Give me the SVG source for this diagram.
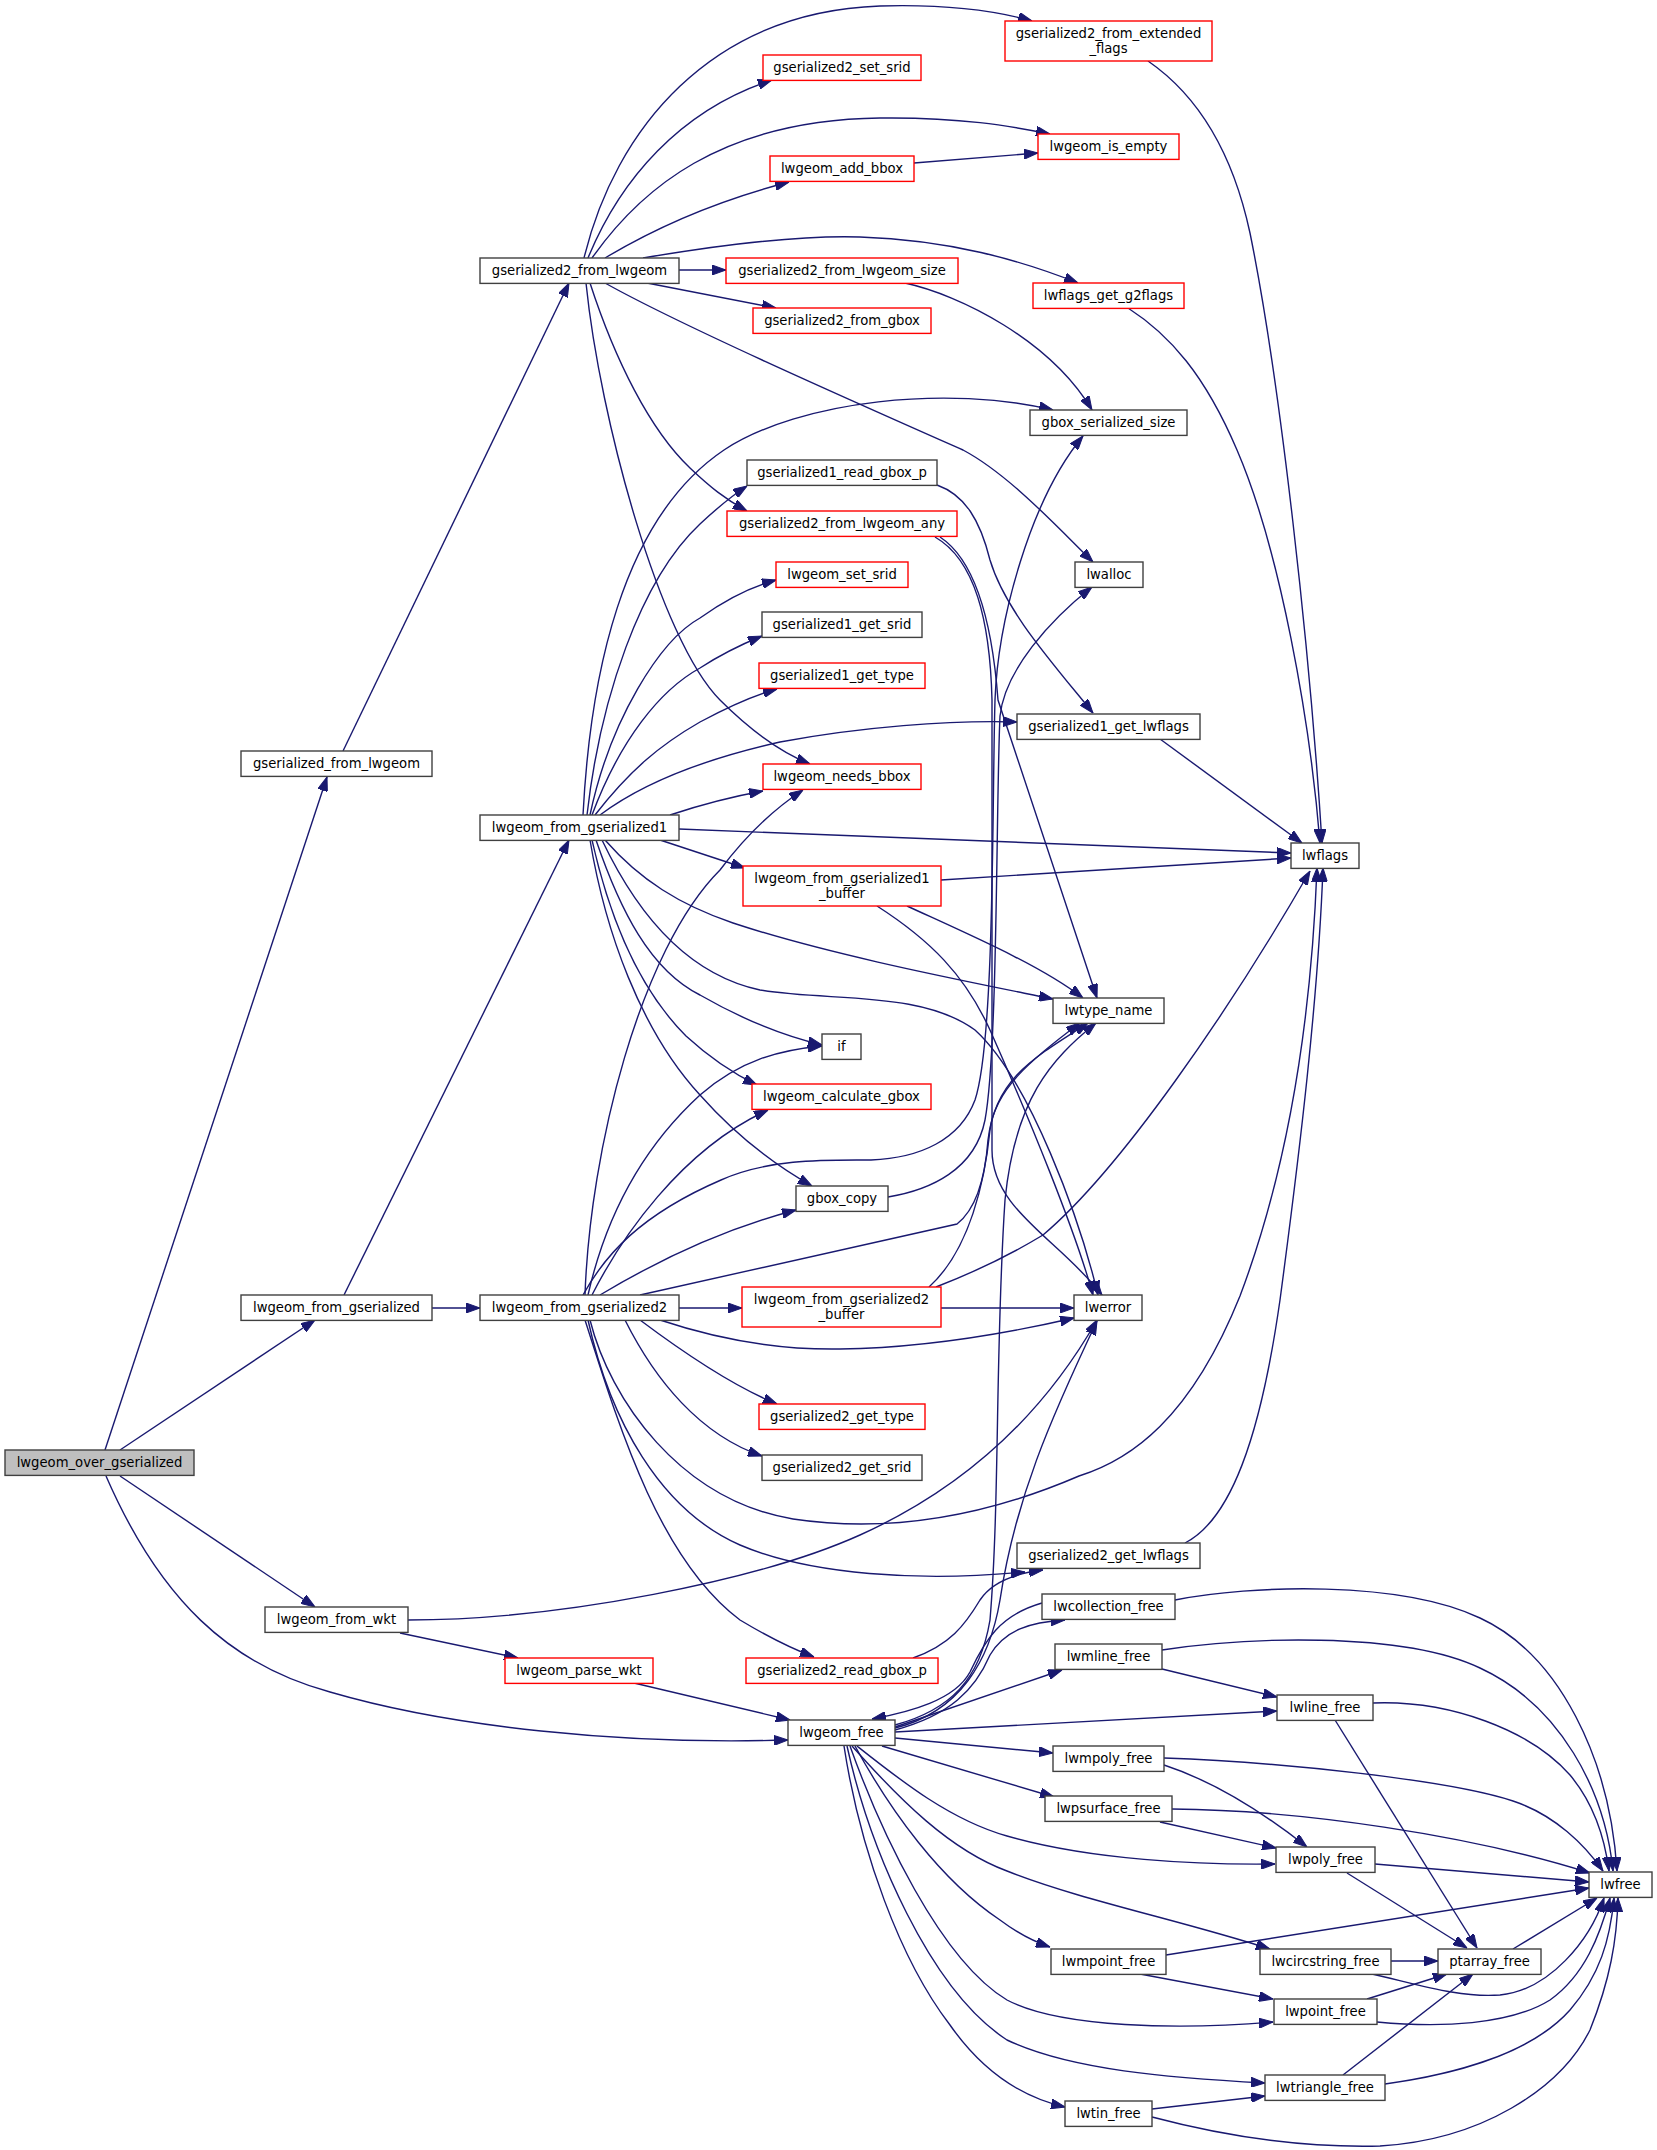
<svg xmlns="http://www.w3.org/2000/svg" width="1657" height="2150" viewBox="0 0 1657 2150">
<style>
.n rect{fill:#ffffff;stroke:#404040;stroke-width:1.4}
.n.r rect{stroke:#ff0000}
.n.root rect{fill:#bfbfbf;stroke:#404040}
text{font-family:"DejaVu Sans","Noto Sans",sans-serif;font-size:13.2px;text-anchor:middle;fill:#000000}
#edges path{fill:none;stroke:#191970;stroke-width:1.4;marker-end:url(#a)}
</style>
<defs>
<marker id="a" markerUnits="userSpaceOnUse" markerWidth="14" markerHeight="10" viewBox="0 0 14 10" refX="14" refY="5" orient="auto">
<path d="M0,0 L14,5 L0,10 z" fill="#191970" stroke="#191970" stroke-width="1"/>
</marker>
</defs>
<rect x="0" y="0" width="1657" height="2150" fill="#ffffff"/>
<g id="edges">
<path d="M105,1450 L327,777"/>
<path d="M120,1450 L315,1320"/>
<path d="M120,1476 L315,1607"/>
<path d="M106,1476 C160,1600 230,1665 330,1692 C450,1727 620,1745 788,1740"/>
<path d="M343,751 L569,283"/>
<path d="M344,1295 L569,840"/>
<path d="M432,1308 L480,1308"/>
<path d="M408,1620 C560,1620 760,1580 860,1535 C960,1490 1040,1420 1097,1320"/>
<path d="M400,1633 L518,1658"/>
<path d="M634,1683 L790,1720"/>
<path d="M584,258 C615,130 710,12 880,6 C950,4 1000,12 1032,21"/>
<path d="M588,258 C620,180 680,110 772,80"/>
<path d="M592,258 C640,190 720,120 880,118 C960,117 1010,126 1050,134"/>
<path d="M605,258 C660,225 720,200 789,182"/>
<path d="M643,258 C720,245 800,235 860,237 C950,240 1020,260 1078,283"/>
<path d="M679,270 L726,270"/>
<path d="M647,283 L776,308"/>
<path d="M605,283 C680,325 850,400 963,450 C1010,475 1060,530 1093,562"/>
<path d="M590,283 C615,360 650,430 690,468 C710,487 725,499 747,511"/>
<path d="M586,283 C600,420 660,640 720,700 C750,730 780,752 810,764"/>
<path d="M583,815 C590,680 620,520 724,450 C800,400 950,385 1053,410"/>
<path d="M587,815 C600,700 640,580 700,524 C715,510 730,497 747,486"/>
<path d="M590,815 C610,720 660,640 700,618 C725,600 750,587 776,580"/>
<path d="M592,815 C620,740 660,690 700,668 C720,655 740,645 762,636"/>
<path d="M595,815 C630,770 660,745 700,722 C730,706 755,695 777,689"/>
<path d="M600,815 C640,785 700,760 780,742 C860,727 950,720 1017,722"/>
<path d="M670,815 C700,805 730,797 763,791"/>
<path d="M679,829 L1291,853"/>
<path d="M660,840 L745,868"/>
<path d="M605,840 C640,880 680,905 733,923 C830,955 960,980 1053,999"/>
<path d="M602,840 C640,920 690,975 760,990 C830,1002 920,990 975,1030 C1030,1080 1080,1220 1098,1295"/>
<path d="M596,840 C620,910 650,970 700,995 C740,1018 780,1035 822,1045"/>
<path d="M592,840 C610,920 640,990 686,1036 C710,1058 730,1072 757,1085"/>
<path d="M590,840 C605,930 640,1030 700,1095 C740,1140 780,1168 812,1186"/>
<path d="M941,880 L1291,858"/>
<path d="M907,906 C970,935 1040,965 1083,998"/>
<path d="M877,906 C930,940 965,975 990,1030 C1030,1120 1075,1230 1093,1295"/>
<path d="M940,537 C975,560 992,620 998,700 L1097,998"/>
<path d="M935,537 C975,560 990,620 992,700 L992,1150 C992,1210 1060,1240 1102,1295"/>
<path d="M937,485 C965,495 980,520 990,560 C1005,610 1050,660 1093,713"/>
<path d="M905,283 C960,295 1050,340 1092,410"/>
<path d="M914,163 L1038,153"/>
<path d="M1148,61 C1190,90 1230,140 1250,233 C1280,380 1310,650 1322,843"/>
<path d="M1128,308 C1170,335 1205,375 1237,450 C1280,550 1310,720 1320,843"/>
<path d="M1160,739 L1302,843"/>
<path d="M583,1295 C605,1255 640,1215 721,1180 C770,1158 830,1160 871,1160 C920,1158 960,1140 975,1100 C995,1040 992,800 995,700 C998,620 1030,500 1083,436"/>
<path d="M888,1197 C930,1190 975,1170 985,1120 C998,1050 996,800 1000,716 C1005,670 1050,620 1092,587"/>
<path d="M588,1295 C605,1220 640,1150 700,1095 C740,1060 780,1050 822,1046"/>
<path d="M592,1295 C620,1240 680,1150 768,1110"/>
<path d="M585,1295 C590,1150 640,950 720,870 C750,830 780,805 803,790"/>
<path d="M600,1295 C650,1265 720,1230 796,1210"/>
<path d="M640,1295 L957,1224 C975,1210 985,1180 988,1140 C995,1080 1030,1060 1088,1023"/>
<path d="M929,1287 C970,1250 985,1180 990,1130 C995,1090 1030,1060 1080,1023"/>
<path d="M679,1308 L742,1308"/>
<path d="M660,1320 C720,1340 780,1350 840,1349 C920,1348 1000,1335 1074,1318"/>
<path d="M640,1320 C680,1350 730,1385 777,1404"/>
<path d="M625,1320 C655,1380 700,1435 762,1456"/>
<path d="M590,1320 C610,1400 680,1500 793,1519 C900,1535 1000,1510 1079,1476 C1130,1460 1190,1420 1240,1296 C1280,1190 1310,1050 1317,868"/>
<path d="M588,1320 C610,1420 660,1510 740,1545 C810,1575 920,1582 1025,1572"/>
<path d="M585,1320 C620,1430 660,1560 740,1620 C765,1635 790,1648 814,1657"/>
<path d="M913,1658 C950,1645 965,1625 980,1600 C990,1585 1010,1574 1043,1570"/>
<path d="M1185,1543 C1230,1520 1260,1440 1280,1300 C1300,1150 1318,1000 1323,868"/>
<path d="M941,1308 L1074,1308"/>
<path d="M936,1287 C980,1270 1010,1255 1043,1235 C1120,1170 1230,1010 1310,871"/>
<path d="M895,1725 C950,1710 980,1680 990,1620 C1000,1500 995,1350 1005,1200 C1015,1100 1050,1060 1096,1023"/>
<path d="M895,1728 C960,1712 990,1660 1000,1600 C1015,1500 1050,1420 1097,1321"/>
<path d="M1042,1603 C1000,1615 985,1640 970,1672 C955,1700 910,1712 872,1719"/>
<path d="M895,1730 C950,1715 975,1690 990,1655 C1005,1630 1030,1622 1065,1620"/>
<path d="M895,1727 L1062,1670"/>
<path d="M895,1732 L1277,1711"/>
<path d="M895,1738 L1053,1753"/>
<path d="M882,1746 L1054,1797"/>
<path d="M857,1746 C900,1780 950,1820 1007,1836 C1090,1860 1200,1865 1275,1864"/>
<path d="M855,1746 C890,1810 940,1880 1000,1920 C1020,1935 1035,1942 1050,1947"/>
<path d="M852,1746 C900,1800 950,1850 1007,1871 C1080,1900 1180,1920 1270,1949"/>
<path d="M850,1746 C880,1830 940,1960 1007,2000 C1060,2028 1180,2030 1273,2022"/>
<path d="M847,1746 C870,1850 930,1990 1007,2040 C1070,2070 1170,2078 1265,2083"/>
<path d="M844,1746 C860,1850 900,1960 950,2025 C985,2075 1025,2098 1065,2107"/>
<path d="M1175,1600 C1250,1585 1400,1580 1480,1618 C1560,1655 1610,1760 1617,1871"/>
<path d="M1162,1650 C1240,1638 1400,1630 1480,1668 C1560,1705 1605,1790 1613,1871"/>
<path d="M1162,1669 L1277,1697"/>
<path d="M1373,1703 C1450,1700 1530,1730 1570,1775 C1595,1805 1605,1840 1609,1871"/>
<path d="M1335,1720 L1477,1948"/>
<path d="M1164,1758 C1280,1762 1450,1780 1513,1801 C1555,1815 1585,1845 1603,1871"/>
<path d="M1164,1765 C1210,1780 1260,1810 1307,1847"/>
<path d="M1172,1809 C1300,1810 1470,1835 1590,1873"/>
<path d="M1160,1822 L1276,1848"/>
<path d="M1375,1864 L1589,1882"/>
<path d="M1347,1873 L1467,1948"/>
<path d="M1391,1961 L1438,1961"/>
<path d="M1372,1974 C1420,1985 1460,1998 1500,1995 C1550,1990 1590,1940 1604,1898"/>
<path d="M1166,1955 L1589,1888"/>
<path d="M1140,1974 L1273,1999"/>
<path d="M1367,1999 L1447,1974"/>
<path d="M1377,2022 C1440,2028 1510,2025 1550,2000 C1585,1975 1600,1935 1610,1898"/>
<path d="M1343,2075 L1473,1974"/>
<path d="M1152,2109 L1265,2096"/>
<path d="M1385,2084 C1450,2075 1530,2055 1570,2010 C1600,1975 1610,1940 1614,1898"/>
<path d="M1152,2117 C1220,2135 1300,2148 1380,2146 C1480,2140 1560,2090 1590,2030 C1610,1980 1617,1940 1618,1898"/>
<path d="M1513,1949 L1597,1898"/>
</g>
<g id="lwgeom_over_gserialized" class="n root"><rect x="5" y="1450" width="189" height="25.4"/><text x="99.5" y="1467.3">lwgeom_over_gserialized</text></g>
<g id="gserialized_from_lwgeom" class="n"><rect x="241" y="751" width="191" height="25.4"/><text x="336.5" y="768.3">gserialized_from_lwgeom</text></g>
<g id="lwgeom_from_gserialized" class="n"><rect x="241" y="1295" width="191" height="25.4"/><text x="336.5" y="1312.3">lwgeom_from_gserialized</text></g>
<g id="lwgeom_from_wkt" class="n"><rect x="265" y="1607" width="143" height="25.4"/><text x="336.5" y="1624.3">lwgeom_from_wkt</text></g>
<g id="gserialized2_from_lwgeom" class="n"><rect x="480" y="258" width="199" height="25.4"/><text x="579.5" y="275.3">gserialized2_from_lwgeom</text></g>
<g id="lwgeom_from_gserialized1" class="n"><rect x="480" y="815" width="199" height="25.4"/><text x="579.5" y="832.3">lwgeom_from_gserialized1</text></g>
<g id="lwgeom_from_gserialized2" class="n"><rect x="480" y="1295" width="199" height="25.4"/><text x="579.5" y="1312.3">lwgeom_from_gserialized2</text></g>
<g id="lwgeom_parse_wkt" class="n r"><rect x="505" y="1658" width="148" height="25.4"/><text x="579" y="1675.3">lwgeom_parse_wkt</text></g>
<g id="gserialized2_from_extended_flags" class="n r"><rect x="1005" y="21" width="207" height="40"/><text x="1108.5" y="37.6">gserialized2_from_extended</text><text x="1108.5" y="52.6">_flags</text></g>
<g id="gserialized2_set_srid" class="n r"><rect x="763" y="55" width="158" height="25.4"/><text x="842" y="72.3">gserialized2_set_srid</text></g>
<g id="lwgeom_is_empty" class="n r"><rect x="1038" y="134" width="141" height="25.4"/><text x="1108.5" y="151.3">lwgeom_is_empty</text></g>
<g id="lwgeom_add_bbox" class="n r"><rect x="770" y="156" width="144" height="25.4"/><text x="842" y="173.3">lwgeom_add_bbox</text></g>
<g id="gserialized2_from_lwgeom_size" class="n r"><rect x="726" y="258" width="232" height="25.4"/><text x="842" y="275.3">gserialized2_from_lwgeom_size</text></g>
<g id="lwflags_get_g2flags" class="n r"><rect x="1033" y="283" width="151" height="25.4"/><text x="1108.5" y="300.3">lwflags_get_g2flags</text></g>
<g id="gserialized2_from_gbox" class="n r"><rect x="753" y="308" width="178" height="25.4"/><text x="842" y="325.3">gserialized2_from_gbox</text></g>
<g id="gbox_serialized_size" class="n"><rect x="1030" y="410" width="157" height="25.4"/><text x="1108.5" y="427.3">gbox_serialized_size</text></g>
<g id="gserialized1_read_gbox_p" class="n"><rect x="747" y="460" width="190" height="25.4"/><text x="842" y="477.3">gserialized1_read_gbox_p</text></g>
<g id="gserialized2_from_lwgeom_any" class="n r"><rect x="727" y="511" width="230" height="25.4"/><text x="842" y="528.3">gserialized2_from_lwgeom_any</text></g>
<g id="lwgeom_set_srid" class="n r"><rect x="776" y="562" width="132" height="25.4"/><text x="842" y="579.3">lwgeom_set_srid</text></g>
<g id="lwalloc" class="n"><rect x="1075" y="562" width="68" height="25.4"/><text x="1109" y="579.3">lwalloc</text></g>
<g id="gserialized1_get_srid" class="n"><rect x="762" y="612" width="160" height="25.4"/><text x="842" y="629.3">gserialized1_get_srid</text></g>
<g id="gserialized1_get_type" class="n r"><rect x="759" y="663" width="166" height="25.4"/><text x="842" y="680.3">gserialized1_get_type</text></g>
<g id="gserialized1_get_lwflags" class="n"><rect x="1017" y="714" width="183" height="25.4"/><text x="1108.5" y="731.3">gserialized1_get_lwflags</text></g>
<g id="lwgeom_needs_bbox" class="n r"><rect x="763" y="764" width="158" height="25.4"/><text x="842" y="781.3">lwgeom_needs_bbox</text></g>
<g id="lwflags" class="n"><rect x="1291" y="843" width="68" height="25.4"/><text x="1325" y="860.3">lwflags</text></g>
<g id="lwgeom_from_gserialized1_buffer" class="n r"><rect x="743" y="866" width="198" height="40"/><text x="842" y="882.6">lwgeom_from_gserialized1</text><text x="842" y="897.6">_buffer</text></g>
<g id="lwtype_name" class="n"><rect x="1053" y="998" width="111" height="25.4"/><text x="1108.5" y="1015.3">lwtype_name</text></g>
<g id="if" class="n"><rect x="822" y="1034" width="39" height="25.4"/><text x="841.5" y="1051.3">if</text></g>
<g id="lwgeom_calculate_gbox" class="n r"><rect x="752" y="1084" width="179" height="25.4"/><text x="841.5" y="1101.3">lwgeom_calculate_gbox</text></g>
<g id="gbox_copy" class="n"><rect x="796" y="1186" width="92" height="25.4"/><text x="842" y="1203.3">gbox_copy</text></g>
<g id="lwgeom_from_gserialized2_buffer" class="n r"><rect x="742" y="1287" width="199" height="40"/><text x="841.5" y="1303.6">lwgeom_from_gserialized2</text><text x="841.5" y="1318.6">_buffer</text></g>
<g id="lwerror" class="n"><rect x="1074" y="1295" width="68" height="25.4"/><text x="1108" y="1312.3">lwerror</text></g>
<g id="gserialized2_get_type" class="n r"><rect x="759" y="1404" width="166" height="25.4"/><text x="842" y="1421.3">gserialized2_get_type</text></g>
<g id="gserialized2_get_srid" class="n"><rect x="762" y="1455" width="160" height="25.4"/><text x="842" y="1472.3">gserialized2_get_srid</text></g>
<g id="gserialized2_get_lwflags" class="n"><rect x="1017" y="1543" width="183" height="25.4"/><text x="1108.5" y="1560.3">gserialized2_get_lwflags</text></g>
<g id="lwcollection_free" class="n"><rect x="1042" y="1594" width="133" height="25.4"/><text x="1108.5" y="1611.3">lwcollection_free</text></g>
<g id="lwmline_free" class="n"><rect x="1055" y="1644" width="107" height="25.4"/><text x="1108.5" y="1661.3">lwmline_free</text></g>
<g id="gserialized2_read_gbox_p" class="n r"><rect x="746" y="1658" width="192" height="25.4"/><text x="842" y="1675.3">gserialized2_read_gbox_p</text></g>
<g id="lwgeom_free" class="n"><rect x="788" y="1720" width="107" height="25.4"/><text x="841.5" y="1737.3">lwgeom_free</text></g>
<g id="lwline_free" class="n"><rect x="1277" y="1695" width="96" height="25.4"/><text x="1325" y="1712.3">lwline_free</text></g>
<g id="lwmpoly_free" class="n"><rect x="1053" y="1746" width="111" height="25.4"/><text x="1108.5" y="1763.3">lwmpoly_free</text></g>
<g id="lwpsurface_free" class="n"><rect x="1045" y="1796" width="127" height="25.4"/><text x="1108.5" y="1813.3">lwpsurface_free</text></g>
<g id="lwpoly_free" class="n"><rect x="1276" y="1847" width="99" height="25.4"/><text x="1325.5" y="1864.3">lwpoly_free</text></g>
<g id="lwfree" class="n"><rect x="1589" y="1872" width="63" height="25.4"/><text x="1620.5" y="1889.3">lwfree</text></g>
<g id="lwmpoint_free" class="n"><rect x="1051" y="1949" width="115" height="25.4"/><text x="1108.5" y="1966.3">lwmpoint_free</text></g>
<g id="lwcircstring_free" class="n"><rect x="1260" y="1949" width="131" height="25.4"/><text x="1325.5" y="1966.3">lwcircstring_free</text></g>
<g id="ptarray_free" class="n"><rect x="1438" y="1949" width="103" height="25.4"/><text x="1489.5" y="1966.3">ptarray_free</text></g>
<g id="lwpoint_free" class="n"><rect x="1274" y="1999" width="103" height="25.4"/><text x="1325.5" y="2016.3">lwpoint_free</text></g>
<g id="lwtriangle_free" class="n"><rect x="1265" y="2075" width="120" height="25.4"/><text x="1325" y="2092.3">lwtriangle_free</text></g>
<g id="lwtin_free" class="n"><rect x="1065" y="2101" width="87" height="25.4"/><text x="1108.5" y="2118.3">lwtin_free</text></g>
</svg>
